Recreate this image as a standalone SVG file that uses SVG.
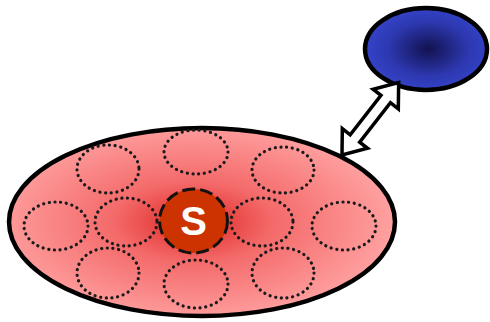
<svg xmlns="http://www.w3.org/2000/svg" width="490" height="322" viewBox="0 0 490 322">
<defs>
<radialGradient id="redg" cx="193" cy="222" r="200" gradientUnits="userSpaceOnUse" gradientTransform="translate(193 222) scale(1 0.5) translate(-193 -222)">
<stop offset="0" stop-color="#dc2622"/>
<stop offset="0.4" stop-color="#f46a6a"/>
<stop offset="1" stop-color="#ffa0a0"/>
</radialGradient>
<radialGradient id="blueg" cx="0.52" cy="0.5" r="0.55">
<stop offset="0" stop-color="#121250"/>
<stop offset="0.6" stop-color="#2d38b0"/>
<stop offset="1" stop-color="#3545cc"/>
</radialGradient>
<style>
.outer{stroke:#000;stroke-width:4.5}
.dot{fill:none;stroke:#1a1a1a;stroke-width:3.2;stroke-dasharray:0.1 5.6;stroke-linecap:round}
.arrow{fill:#fff;stroke:#000;stroke-width:3.5;stroke-linejoin:miter}
</style>
</defs>
<g id="cluster">
<ellipse class="outer" cx="202" cy="222" rx="193" ry="94" fill="url(#redg)"/>
<ellipse class="dot" cx="108" cy="169" rx="31" ry="24"/>
<ellipse class="dot" cx="196" cy="152" rx="32" ry="22"/>
<ellipse class="dot" cx="283" cy="170" rx="31" ry="23"/>
<ellipse class="dot" cx="56" cy="226" rx="32" ry="24"/>
<ellipse class="dot" cx="126" cy="222" rx="31" ry="24"/>
<ellipse class="dot" cx="262" cy="222" rx="31" ry="24"/>
<ellipse class="dot" cx="344" cy="226" rx="32" ry="24"/>
<ellipse class="dot" cx="108" cy="273" rx="31" ry="25"/>
<ellipse class="dot" cx="196" cy="284" rx="32" ry="24"/>
<ellipse class="dot" cx="283" cy="273" rx="31" ry="25"/>
</g>
<g id="s-node">
<ellipse cx="193.5" cy="221" rx="34" ry="32" fill="#cc3300" stroke="#111" stroke-width="3" stroke-dasharray="13 5"/>
<text x="193.5" y="235" text-anchor="middle" font-family="Liberation Sans, Arial, sans-serif" font-weight="bold" font-size="40" fill="#fff">S</text>
</g>
<g id="blue-node">
<ellipse class="outer" cx="426" cy="49" rx="61" ry="41" fill="url(#blueg)"/>
</g>
<g id="connectors">
<path class="arrow" transform="translate(342 155) rotate(-52)" d="M0 0 L21 -16 L21 -6 L71 -6 L71 -16 L92 0 L71 16 L71 6 L21 6 L21 16 Z"/>
</g>
</svg>
